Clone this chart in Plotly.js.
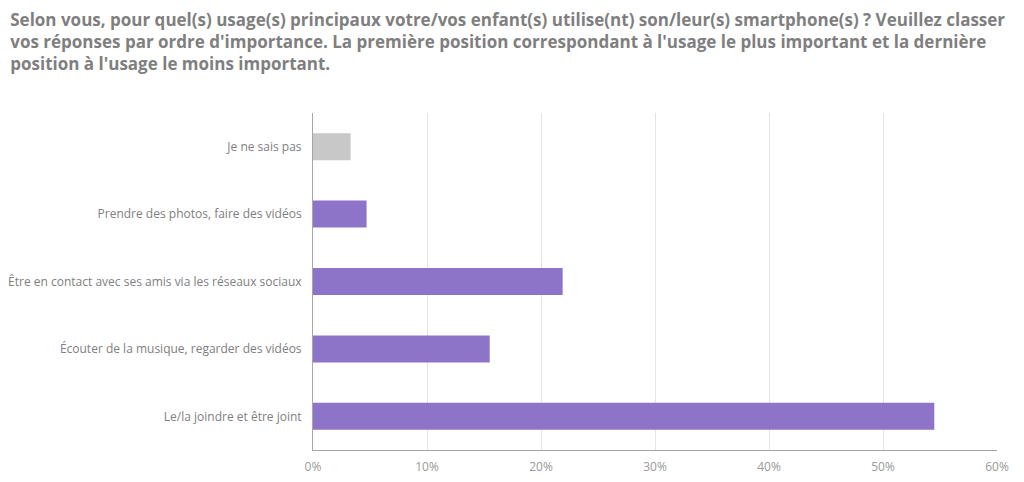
<!DOCTYPE html>
<html>
<head>
<meta charset="utf-8">
<script src="https://cdn.plot.ly/plotly-3.0.1.min.js"></script>
<style>
  html, body { margin: 0; padding: 0; background: #fff; }
  #plot { width: 1024px; height: 482px; }
</style>
</head>
<body>
<div id="plot"></div>
<script>
// categories, bottom to top as drawn
var usages = ["Le/la joindre et être joint",
  "Écouter de la musique, regarder des vidéos",
  "Être en contact avec ses amis via les réseaux sociaux",
  "Prendre des photos, faire des vidéos",
  "Je ne sais pas"];
var shares = [0.545, 0.155, 0.219, 0.047, 0.033];
var barColors = ["#8e74c8", "#8e74c8", "#8e74c8", "#8e74c8", "#c8c8c8"];
var tickVals = [0, 0.1, 0.2, 0.3, 0.4, 0.5, 0.6];
var tickText = ["0%", "10%", "20%", "30%", "40%", "50%", "60%"];

var trace1 = {
  y: usages,
  x: shares,
  type: "bar",
  orientation: "h",
  marker: { color: barColors },
  hoverinfo: "none"
};

var layout = {
  width: 1024,
  height: 482,
  margin: { l: 313, r: 27, t: 113, b: 32 },
  paper_bgcolor: "#fff",
  plot_bgcolor: "#fff",
  showlegend: false,
  bargap: 0.6,
  title: {
    text: "Selon vous, pour quel(s) usage(s) principaux votre/vos enfant(s) utilise(nt) son/leur(s) smartphone(s) ? Veuillez classer<br>vos réponses par ordre d'importance. La première position correspondant à l'usage le plus important et la dernière<br>position à l'usage le moins important.",
    font: { family: "Open Sans", size: 17, color: "#7f7f7f", weight: "bold" },
    x: 0.01, xanchor: "left",
    y: 0.947, yanchor: "top",
    xref: "container", yref: "container"
  },
  xaxis: {
    range: [0, 0.6],
    tickvals: tickVals,
    ticktext: tickText,
    showgrid: true,
    gridcolor: "#e3e3e3",
    zeroline: false,
    showline: true,
    linecolor: "#a6a6a6",
    ticks: "",
    ticklabelstandoff: 6,
    tickfont: { family: "Open Sans", size: 12, color: "#999999" },
    fixedrange: true
  },
  yaxis: {
    showline: true,
    linecolor: "#a6a6a6",
    showgrid: false,
    ticks: "",
    ticklabelstandoff: 8,
    tickfont: { family: "Open Sans", size: 12, color: "#808080" },
    fixedrange: true
  }
};

Plotly.newPlot("plot", [trace1], layout, { displayModeBar: false, staticPlot: true });
</script>
</body>
</html>
